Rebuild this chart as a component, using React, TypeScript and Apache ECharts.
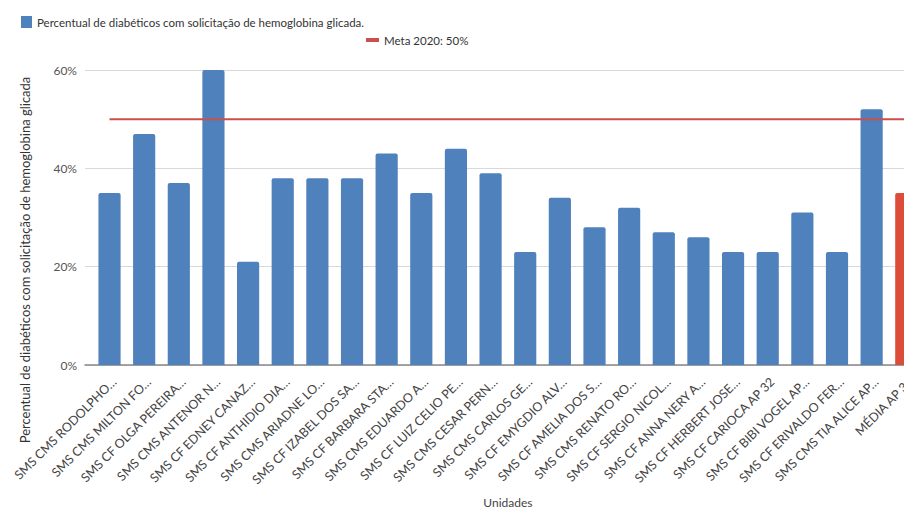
import React, { useEffect, useRef } from "react";
import * as echarts from "echarts";

const categories = [
  "SMS CMS RODOLPHO…",
  "SMS CMS MILTON FO…",
  "SMS CF OLGA PEREIRA…",
  "SMS CMS ANTENOR N…",
  "SMS CF EDNEY CANAZ…",
  "SMS CF ANTHIDIO DIA…",
  "SMS CMS ARIADNE LO…",
  "SMS CF IZABEL DOS SA…",
  "SMS CF BARBARA STA…",
  "SMS CMS EDUARDO A…",
  "SMS CF LUIZ CELIO PE…",
  "SMS CMS CESAR PERN…",
  "SMS CMS CARLOS GE…",
  "SMS CF EMYGDIO ALV…",
  "SMS CF AMELIA DOS S…",
  "SMS CMS RENATO RO…",
  "SMS CF SERGIO NICOL…",
  "SMS CF ANNA NERY A…",
  "SMS CF HERBERT JOSE…",
  "SMS CF CARIOCA AP 32",
  "SMS CF BIBI VOGEL AP…",
  "SMS CF ERIVALDO FER…",
  "SMS CMS TIA ALICE AP…",
  "MÉDIA AP 32",
];

const percentValues = [35, 47, 37, 60, 21, 38, 38, 38, 43, 35, 44, 39, 23, 34, 28, 32, 27, 26, 23, 23, 31, 23, 52, 35];
const metaValue = 50;
const metaValues = categories.map(() => metaValue);
const yTicks = [0, 20, 40, 60];

const seriesName = "Percentual de diabéticos com solicitação de hemoglobina glicada.";
const metaName = "Meta 2020: 50%";
const yTitle = "Percentual de diabéticos com solicitação de hemoglobina glicada";

const BLUE = "#4f81bd";
const RED_BAR = "#dd4b39";
const RED_LINE = "#c9504c";
const FONT = "Lato";

export default function App() {
  const ref = useRef<HTMLDivElement>(null);
  useEffect(() => {
    if (!ref.current) return;
    const chart = echarts.init(ref.current, null, { renderer: "svg" });
    const lastIdx = categories.length - 1;
    chart.setOption({
      animation: false,
      textStyle: { fontFamily: FONT },
      legend: [
        {
          data: [{ name: seriesName, icon: "rect" }],
          left: 16,
          top: 11,
          itemWidth: 11,
          itemHeight: 12,
          itemGap: 10,
          textStyle: { fontSize: 11.5, color: "#333", fontFamily: FONT },
        },
        {
          data: [{ name: metaName, icon: "rect" }],
          left: 361,
          top: 29,
          itemWidth: 13,
          itemHeight: 4,
          textStyle: { fontSize: 11.5, color: "#333", fontFamily: FONT },
        },
      ],
      graphic: [
        {
          type: "text",
          x: 25,
          y: 260,
          rotation: Math.PI / 2,
          style: {
            text: yTitle,
            fontSize: 13,
            fontFamily: FONT,
            fill: "#333",
            textAlign: "center",
            textVerticalAlign: "middle",
          },
        },
      ],
      grid: [
        { left: 85, right: 0, top: 70, height: 295, outerBoundsMode: "none", containLabel: false },
        { left: 92.2, right: 960 - 923.6, top: 70, height: 295, outerBoundsMode: "none", containLabel: false },
      ],
      xAxis: [
        {
          type: "category",
          gridIndex: 0,
          data: [""],
          axisLine: { show: true, lineStyle: { color: "#888", width: 1.5 } },
          axisTick: { show: false },
          axisLabel: { show: false },
        },
        {
          type: "category",
          gridIndex: 1,
          data: categories,
          axisLine: { show: false },
          axisTick: { show: false },
          axisLabel: {
            interval: 0,
            rotate: 45,
            fontSize: 12.5,
            color: "#444",
            fontFamily: FONT,
            margin: 10,
            verticalAlign: "top",
          },
          name: "Unidades",
          nameLocation: "middle",
          nameGap: 131,
          nameTextStyle: { fontSize: 12, color: "#444", fontFamily: FONT },
        },
      ],
      yAxis: [
        {
          type: "value",
          gridIndex: 0,
          min: yTicks[0],
          max: yTicks[yTicks.length - 1],
          interval: 20,
          axisLine: { show: false },
          axisTick: { show: false },
          axisLabel: {
            formatter: "{value}%",
            fontSize: 12,
            color: "#555",
            fontFamily: FONT,
            margin: 8,
          },
          splitLine: { lineStyle: { color: "#d9d9d9", width: 1 } },
        },
        {
          type: "value",
          gridIndex: 1,
          min: yTicks[0],
          max: yTicks[yTicks.length - 1],
          interval: 20,
          show: false,
          splitLine: { show: false },
        },
      ],
      series: [
        {
          name: seriesName,
          type: "bar",
          xAxisIndex: 1,
          yAxisIndex: 1,
          barWidth: "64%",
          itemStyle: { color: BLUE, borderRadius: [2, 2, 0, 0] },
          data: percentValues.map((v, i) =>
            i === lastIdx ? { value: v, itemStyle: { color: RED_BAR } } : v
          ),
          z: 2,
        },
        {
          name: metaName,
          type: "line",
          xAxisIndex: 1,
          yAxisIndex: 1,
          data: metaValues,
          symbol: "none",
          lineStyle: { color: RED_LINE, width: 2 },
          itemStyle: { color: RED_LINE },
          z: 5,
        },
      ],
    });
    return () => chart.dispose();
  }, []);
  return (
    <div
      style={{
        position: "fixed",
        left: 0,
        top: 0,
        width: 904,
        height: 509,
        overflow: "hidden",
        background: "#fff",
      }}
    >
      <div ref={ref} style={{ width: 960, height: 509 }} />
    </div>
  );
}
